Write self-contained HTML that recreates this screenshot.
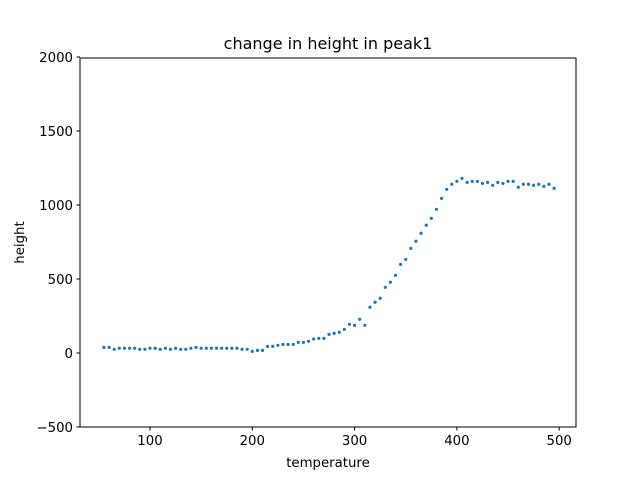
<!DOCTYPE html>
<html><head><meta charset="utf-8"><style>
html,body{margin:0;padding:0;background:#fff;}
svg{display:block;font-family:"DejaVu Sans","Liberation Sans",sans-serif;}
</style></head><body>
<svg id="chart" width="640" height="480" xmlns="http://www.w3.org/2000/svg">
<rect width="640" height="480" fill="#fff"/>
<text x="328" y="49" font-size="16" text-anchor="middle">change in height in peak1</text>
<g id="plot"></g>
<rect x="80" y="58" width="496" height="369" fill="none" stroke="#000" stroke-width="1"/>
<text x="328" y="467" font-size="13.3" text-anchor="middle">temperature</text>
<text transform="translate(24,242.5) rotate(-90)" font-size="13.3" text-anchor="middle">height</text>
</svg>
<script>
const temps = [55,60,65,70,75,80,85,90,95,100,105,110,115,120,125,130,135,140,145,150,155,160,165,170,175,180,185,190,195,200,205,210,215,220,225,230,235,240,245,250,255,260,265,270,275,280,285,290,295,300,305,310,315,320,325,330,335,340,345,350,355,360,365,370,375,380,385,390,395,400,405,410,415,420,425,430,435,440,445,450,455,460,465,470,475,480,485,490,495];
const heights = [38,38,25,32,32,32,32,25,25,32,32,25,32,25,32,25,25,32,38,32,32,32,32,32,32,32,32,25,25,11,18,18,45,45,52,58,58,58,72,72,79,95,99,99,126,133,140,160,194,187,228,187,309,343,370,444,478,525,599,633,707,755,809,863,910,971,1045,1106,1140,1160,1180,1153,1160,1160,1146,1153,1133,1153,1146,1160,1160,1120,1140,1140,1133,1140,1126,1140,1113];
const xTicks = [100,200,300,400,500];
const yTicks = [-500,0,500,1000,1500,2000];
const xs = t => 47.7 + 1.023 * t;
const ys = v => 353 - v * 74 / 500;
const NS = "http://www.w3.org/2000/svg";
const g = document.getElementById('plot');
function mk(tag, attrs){const e=document.createElementNS(NS,tag);for(const k in attrs)e.setAttribute(k,attrs[k]);return e;}
xTicks.forEach(t=>{
  const x = xs(t);
  const l = mk('line',{x1:x,x2:x,y1:427,y2:430.5,stroke:'#000','stroke-width':1});
  
  
  g.appendChild(l);
  const tx = mk('text',{x:x,y:445,'font-size':13.3,'text-anchor':'middle'});
  
  
  tx.textContent = t;
  g.appendChild(tx);
});
yTicks.forEach(v=>{
  const y = ys(v);
  const l = mk('line',{x1:76.5,x2:80,y1:y,y2:y,stroke:'#000','stroke-width':1});
  
  
  g.appendChild(l);
  const tx = mk('text',{x:73,y:y+5,'font-size':13.3,'text-anchor':'end'});
  
  
  tx.textContent = v < 0 ? '\u2212' + Math.abs(v) : v;
  g.appendChild(tx);
});
temps.forEach((t,i)=>{
  const c = mk('circle',{cx:xs(t),cy:ys(heights[i]),r:1.6,fill:'#1f77b4'});
  
  
  g.appendChild(c);
});
</script>
</body></html>
